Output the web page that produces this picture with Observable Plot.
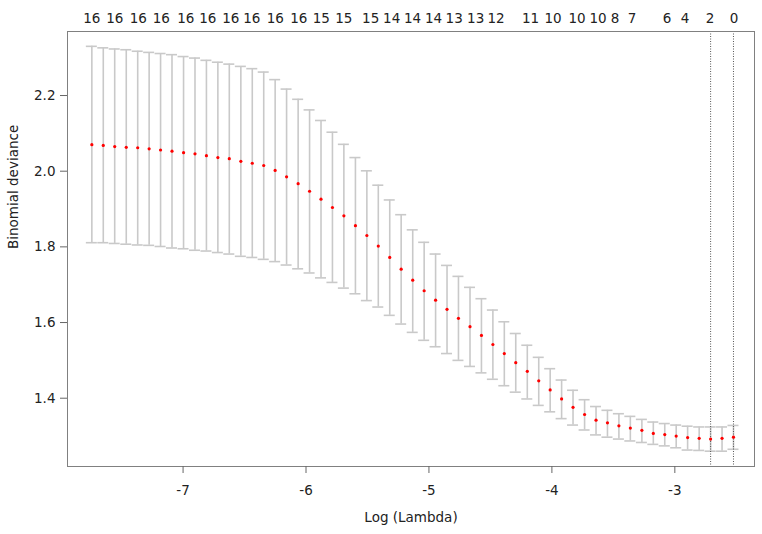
<!DOCTYPE html>
<html>
<head>
<meta charset="utf-8">
<script src="https://cdn.jsdelivr.net/npm/d3@7"></script>
<script src="https://cdn.jsdelivr.net/npm/@observablehq/plot@0.6"></script>
<style>
  html, body { margin: 0; padding: 0; background: #fff; }
</style>
</head>
<body>
<div id="chart"></div>
<script>
const logLambda = [-7.742,-7.649,-7.556,-7.462,-7.369,-7.276,-7.183,-7.090,-6.996,-6.903,
  -6.810,-6.717,-6.624,-6.530,-6.437,-6.344,-6.251,-6.158,-6.064,-5.971,
  -5.878,-5.785,-5.692,-5.598,-5.505,-5.412,-5.319,-5.226,-5.132,-5.039,
  -4.946,-4.853,-4.760,-4.666,-4.573,-4.480,-4.387,-4.294,-4.200,-4.107,
  -4.014,-3.921,-3.828,-3.734,-3.641,-3.548,-3.455,-3.362,-3.268,-3.175,
  -3.082,-2.989,-2.896,-2.802,-2.709,-2.616,-2.523];
const cvMean = [2.070,2.068,2.065,2.063,2.062,2.059,2.056,2.053,2.049,2.046,
  2.041,2.036,2.033,2.026,2.021,2.015,2.002,1.985,1.967,1.947,
  1.926,1.904,1.882,1.856,1.830,1.802,1.772,1.741,1.712,1.684,
  1.659,1.635,1.611,1.589,1.566,1.542,1.518,1.494,1.471,1.446,
  1.422,1.398,1.376,1.357,1.342,1.335,1.327,1.321,1.315,1.307,
  1.304,1.300,1.296,1.294,1.292,1.294,1.297];
const cvUpper = [2.330,2.326,2.323,2.321,2.317,2.314,2.311,2.308,2.303,2.299,
  2.293,2.288,2.283,2.277,2.271,2.262,2.242,2.217,2.190,2.162,
  2.134,2.103,2.071,2.036,2.001,1.963,1.924,1.885,1.845,1.812,
  1.781,1.751,1.722,1.693,1.663,1.633,1.602,1.571,1.540,1.508,
  1.478,1.448,1.421,1.396,1.378,1.368,1.359,1.352,1.344,1.337,
  1.333,1.329,1.326,1.324,1.324,1.324,1.328];
const cvLower = [1.811,1.811,1.809,1.807,1.805,1.804,1.801,1.797,1.795,1.791,
  1.789,1.785,1.781,1.775,1.772,1.767,1.761,1.752,1.742,1.731,
  1.718,1.706,1.691,1.676,1.658,1.641,1.619,1.596,1.574,1.553,
  1.536,1.518,1.500,1.484,1.467,1.450,1.433,1.416,1.398,1.381,
  1.364,1.346,1.329,1.316,1.303,1.297,1.292,1.287,1.283,1.278,
  1.274,1.269,1.263,1.262,1.260,1.260,1.265];
const nzLabels = ["16","16","16","16","16","16","16","16","16","16",
  "15","15","15","14","14","14","13","13","12","11",
  "10","10","10","8","7","6","4","2","0"];
const nzAt = [-7.742,-7.555,-7.364,-7.177,-6.978,-6.799,-6.612,-6.441,-6.250,-6.058,
  -5.876,-5.693,-5.474,-5.303,-5.133,-4.962,-4.795,-4.620,-4.454,-4.173,
  -3.990,-3.795,-3.624,-3.486,-3.348,-3.063,-2.917,-2.713,-2.518];
const xTicks = [-7, -6, -5, -4, -3];
const yTicks = [1.4, 1.6, 1.8, 2.0, 2.2];
const lambdaMin = logLambda[54];
const lambda1se = logLambda[56];
const xTitle = "Log (Lambda)";
const yTitle = "Binomial deviance";

const rows = logLambda.map((x, i) => ({x, m: cvMean[i], hi: cvUpper[i], lo: cvLower[i]}));
const tops = nzAt.map((x, i) => ({x, label: nzLabels[i]}));

const barColor = "#c9c9c9";
const textColor = "#222";

const chart = Plot.plot({
  width: 762,
  height: 534,
  marginLeft: 67,
  marginRight: 8,
  marginTop: 31,
  marginBottom: 68,
  style: {fontFamily: "DejaVu Sans", fontSize: "13.5px", color: textColor, background: "#fff"},
  x: {domain: [-7.94, -2.352]},
  y: {domain: [1.2195, 2.3692]},
  marks: [
    Plot.ruleX(rows, {x: "x", y1: "lo", y2: "hi", stroke: barColor, strokeWidth: 1.6}),
    Plot.ruleY(rows, {y: "hi", x1: "x", x2: "x", insetLeft: -5.5, insetRight: -5.5, stroke: barColor, strokeWidth: 1.6}),
    Plot.ruleY(rows, {y: "lo", x1: "x", x2: "x", insetLeft: -5.5, insetRight: -5.5, stroke: barColor, strokeWidth: 1.6}),
    Plot.ruleX([lambdaMin, lambda1se], {stroke: "#555", strokeDasharray: "1,1.5", strokeWidth: 1}),
    Plot.dot(rows, {x: "x", y: "m", r: 1.6, fill: "#ff0000", stroke: null}),
    Plot.frame({stroke: "#808080"}),
    Plot.axisX({ticks: xTicks, tickFormat: d => String(d), tickSize: 7, tickPadding: 12, stroke: "#666", fill: textColor, label: null}),
    Plot.axisY({ticks: yTicks, tickFormat: d => d.toFixed(1), tickSize: 7, tickPadding: 5, stroke: "#666", fill: textColor, label: null}),
    Plot.text(tops, {x: "x", text: "label", frameAnchor: "top", dy: -18, fill: textColor}),
    Plot.text([xTitle], {frameAnchor: "bottom", dy: 55, fill: textColor}),
    Plot.text([yTitle], {frameAnchor: "left", dx: -54, rotate: -90, fill: textColor})
  ]
});
document.getElementById("chart").appendChild(chart);
</script>
</body>
</html>
